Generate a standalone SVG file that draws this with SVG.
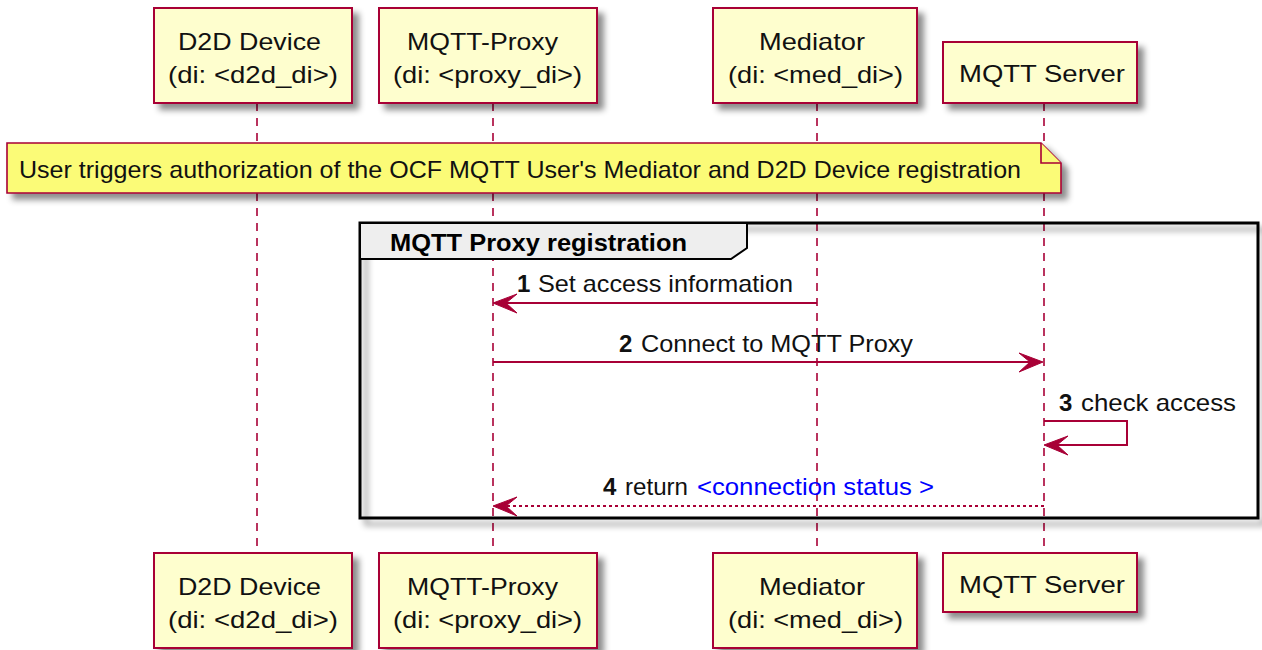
<svg xmlns="http://www.w3.org/2000/svg" width="1262" height="650" viewBox="0 0 1262 650">
  <style>
    .box { fill: #FEFECE; stroke: #A80036; stroke-width: 2; }
    .ptxt { font-family: "Liberation Sans", Arial, sans-serif; font-size: 24px; fill: #111; }
    .life { stroke: #A80036; stroke-width: 1.6; stroke-dasharray: 8 7; fill: none; }
    .msg { stroke: #A80036; stroke-width: 2; fill: none; }
    .ret { stroke: #A80036; stroke-width: 2; stroke-dasharray: 3 3; fill: none; }
    .head { fill: #A80036; stroke: #A80036; stroke-width: 1; }
    .mtxt { font-family: "Liberation Sans", Arial, sans-serif; font-size: 24px; fill: #111; }
    .num { font-weight: bold; }
    .blue { fill: #0000FF; }
    .note { fill: #FBFB77; stroke: #A80036; stroke-width: 1.6; }
    .frame { fill: none; stroke: #000; stroke-width: 3; }
    .tab { fill: #EEEEEE; stroke: #000; stroke-width: 2; }
    .ttl { font-family: "Liberation Sans", Arial, sans-serif; font-size: 24px; font-weight: bold; fill: #000; }
  </style>
  <defs>
    <filter id="shadow" x="-10%" y="-10%" width="130%" height="140%">
      <feDropShadow dx="6" dy="6" stdDeviation="3" flood-color="#000" flood-opacity="0.45"/>
    </filter>
  </defs>

  <rect width="1262" height="650" fill="#FFFFFF"/>

  <!-- lifelines -->
  <g id="lifelines">
    <line class="life" x1="257" y1="103" x2="257" y2="553"/>
    <line class="life" x1="493" y1="103" x2="493" y2="553"/>
    <line class="life" x1="817" y1="103" x2="817" y2="553"/>
    <line class="life" x1="1044" y1="103" x2="1044" y2="553"/>
  </g>

  <!-- participants, top row -->
  <g id="d2d-top">
    <rect class="box" x="154" y="8" width="198" height="95" filter="url(#shadow)"/>
    <text class="ptxt" x="178" y="50" textLength="143" lengthAdjust="spacingAndGlyphs">D2D Device</text>
    <text class="ptxt" x="168" y="83" textLength="170" lengthAdjust="spacingAndGlyphs">(di: &lt;d2d_di&gt;)</text>
  </g>
  <g id="proxy-top">
    <rect class="box" x="379" y="8" width="218" height="95" filter="url(#shadow)"/>
    <text class="ptxt" x="407" y="50" textLength="151" lengthAdjust="spacingAndGlyphs">MQTT-Proxy</text>
    <text class="ptxt" x="393" y="83" textLength="189" lengthAdjust="spacingAndGlyphs">(di: &lt;proxy_di&gt;)</text>
  </g>
  <g id="mediator-top">
    <rect class="box" x="713" y="8" width="204" height="95" filter="url(#shadow)"/>
    <text class="ptxt" x="759" y="50" textLength="106" lengthAdjust="spacingAndGlyphs">Mediator</text>
    <text class="ptxt" x="728" y="83" textLength="175" lengthAdjust="spacingAndGlyphs">(di: &lt;med_di&gt;)</text>
  </g>
  <g id="server-top">
    <rect class="box" x="943" y="42" width="194" height="61" filter="url(#shadow)"/>
    <text class="ptxt" x="959" y="82" textLength="166" lengthAdjust="spacingAndGlyphs">MQTT Server</text>
  </g>

  <!-- note across all participants -->
  <g id="note-auth">
    <path class="note" d="M7,143 L1041,143 L1061,163 L1061,193 L7,193 Z" filter="url(#shadow)"/>
    <path class="note" d="M1041,143 L1041,163 L1061,163"/>
    <text class="mtxt" x="19" y="178" textLength="1002" lengthAdjust="spacingAndGlyphs">User triggers authorization of the OCF MQTT User's Mediator and D2D Device registration</text>
  </g>

  <!-- group frame -->
  <g id="frame-registration">
    <rect class="frame" x="360" y="223" width="898" height="295" filter="url(#shadow)"/>
    <path class="tab" d="M360,223 L747,223 L747,248 L731,259 L360,259 Z"/>
    <text class="ttl" x="390" y="251" textLength="297" lengthAdjust="spacingAndGlyphs">MQTT Proxy registration</text>
  </g>

  <!-- messages -->
  <g id="connectors">
    <!-- 1: Mediator -> MQTT-Proxy -->
    <line class="msg" x1="817" y1="303" x2="495" y2="303"/>
    <polygon class="head" points="493,303 517,294 506,303 517,313"/>
    <!-- 2: MQTT-Proxy -> MQTT Server -->
    <line class="msg" x1="493" y1="362" x2="1040" y2="362"/>
    <polygon class="head" points="1043,362 1019,353 1030,362 1019,372"/>
    <!-- 3: MQTT Server self call -->
    <polyline class="msg" points="1044,421 1127,421 1127,445 1047,445"/>
    <polygon class="head" points="1044,445 1068,436 1057,445 1068,455"/>
    <!-- 4: MQTT Server -> MQTT-Proxy (return) -->
    <line class="ret" x1="1044" y1="506" x2="497" y2="506"/>
    <polygon class="head" points="493,506 517,497 506,506 517,516"/>
  </g>

  <g id="labels">
    <text class="mtxt num" x="517" y="292">1</text>
    <text class="mtxt" x="538" y="292" textLength="255" lengthAdjust="spacingAndGlyphs">Set access information</text>
    <text class="mtxt num" x="619" y="352">2</text>
    <text class="mtxt" x="641" y="352" textLength="272" lengthAdjust="spacingAndGlyphs">Connect to MQTT Proxy</text>
    <text class="mtxt num" x="1059" y="411">3</text>
    <text class="mtxt" x="1081" y="411" textLength="155" lengthAdjust="spacingAndGlyphs">check access</text>
    <text class="mtxt num" x="603" y="495">4</text>
    <text class="mtxt" x="625" y="495" textLength="63" lengthAdjust="spacingAndGlyphs">return</text>
    <text class="mtxt blue" x="697" y="495" textLength="237" lengthAdjust="spacingAndGlyphs">&lt;connection status &gt;</text>
  </g>

  <!-- participants, bottom row -->
  <g id="d2d-bottom">
    <rect class="box" x="154" y="553" width="198" height="95" filter="url(#shadow)"/>
    <text class="ptxt" x="178" y="595" textLength="143" lengthAdjust="spacingAndGlyphs">D2D Device</text>
    <text class="ptxt" x="168" y="628" textLength="170" lengthAdjust="spacingAndGlyphs">(di: &lt;d2d_di&gt;)</text>
  </g>
  <g id="proxy-bottom">
    <rect class="box" x="379" y="553" width="218" height="95" filter="url(#shadow)"/>
    <text class="ptxt" x="407" y="595" textLength="151" lengthAdjust="spacingAndGlyphs">MQTT-Proxy</text>
    <text class="ptxt" x="393" y="628" textLength="189" lengthAdjust="spacingAndGlyphs">(di: &lt;proxy_di&gt;)</text>
  </g>
  <g id="mediator-bottom">
    <rect class="box" x="713" y="553" width="204" height="95" filter="url(#shadow)"/>
    <text class="ptxt" x="759" y="595" textLength="106" lengthAdjust="spacingAndGlyphs">Mediator</text>
    <text class="ptxt" x="728" y="628" textLength="175" lengthAdjust="spacingAndGlyphs">(di: &lt;med_di&gt;)</text>
  </g>
  <g id="server-bottom">
    <rect class="box" x="943" y="553" width="194" height="59" filter="url(#shadow)"/>
    <text class="ptxt" x="959" y="593" textLength="166" lengthAdjust="spacingAndGlyphs">MQTT Server</text>
  </g>
</svg>
